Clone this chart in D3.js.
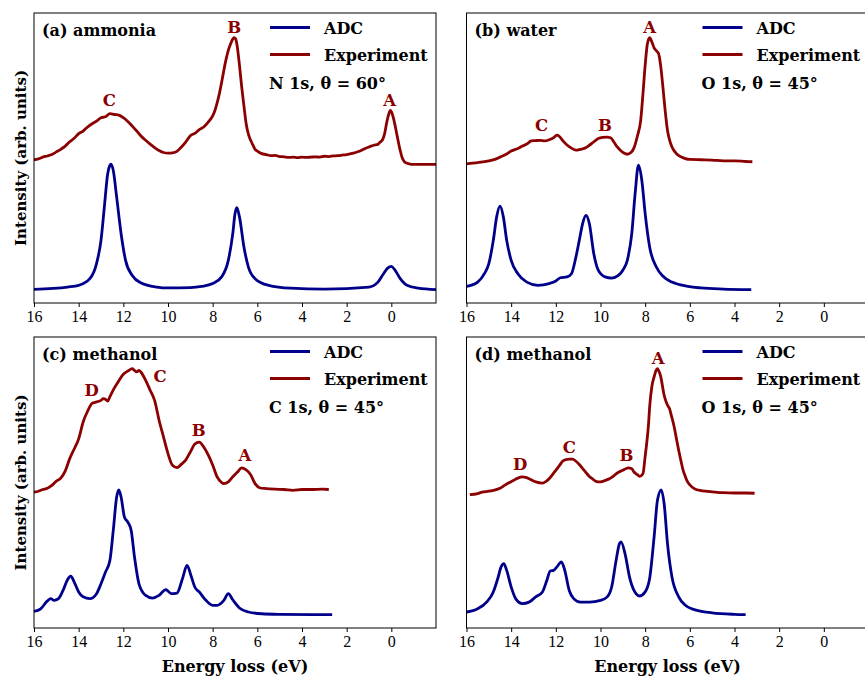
<!DOCTYPE html>
<html><head><meta charset="utf-8">
<script src="https://cdn.jsdelivr.net/npm/d3@7"></script>
<style>body{margin:0;background:#fff}svg{display:block}</style>
</head><body>
<script>
// ---------- DATA ----------
const xTicks = [16, 14, 12, 10, 8, 6, 4, 2, 0];
const xLabel = "Energy loss (eV)";
const yLabel = "Intensity (arb. units)";
const seriesNames = ["ADC", "Experiment"];
const titles = ["(a) ammonia", "(b) water", "(c) methanol", "(d) methanol"];
const conditions = ["N 1s, θ = 60°", "O 1s, θ = 45°", "C 1s, θ = 45°", "O 1s, θ = 45°"];

// (a) ammonia
const adcA_E = [16,14.5,14,13.5,13.2,13.0,12.85,12.7,12.6,12.55,12.45,12.3,12.1,11.9,11.6,11.2,10.5,10,9,8.5,8,7.6,7.3,7.1,7.0,6.92,6.8,6.6,6.4,6.1,5.5,4.5,3,1,0.6,0.35,0.15,0,-0.15,-0.4,-0.7,-1.2,-2];
const adcA_I = [0.047,0.055,0.061,0.084,0.136,0.216,0.331,0.446,0.475,0.479,0.457,0.366,0.239,0.147,0.095,0.069,0.055,0.052,0.053,0.057,0.067,0.090,0.147,0.239,0.308,0.329,0.297,0.193,0.124,0.084,0.061,0.051,0.048,0.055,0.072,0.101,0.121,0.126,0.115,0.084,0.061,0.051,0.046];
const expA_E = [16,15.8,15.6,15.4,15.2,15.0,14.8,14.6,14.4,14.2,14.0,13.8,13.6,13.4,13.2,13.0,12.8,12.6,12.4,12.2,12.0,11.8,11.6,11.4,11.2,11.0,10.8,10.6,10.4,10.2,10.0,9.8,9.6,9.4,9.2,9.0,8.8,8.6,8.4,8.2,8.0,7.9,7.8,7.7,7.6,7.5,7.4,7.3,7.2,7.1,7.05,7.0,6.95,6.9,6.8,6.7,6.6,6.5,6.4,6.3,6.2,6.1,6.0,5.8,5.6,5.4,5.2,5.0,4.8,4.6,4.4,4.2,4.0,3.8,3.6,3.4,3.2,3.0,2.8,2.6,2.4,2.2,2.0,1.8,1.6,1.4,1.2,1.0,0.8,0.6,0.5,0.4,0.3,0.2,0.1,0.05,0.0,-0.1,-0.2,-0.3,-0.4,-0.5,-0.6,-0.8,-1.0,-1.5,-2.0];
const expA_I = [0.494,0.497,0.503,0.507,0.512,0.521,0.530,0.541,0.556,0.568,0.584,0.593,0.607,0.618,0.627,0.639,0.642,0.653,0.650,0.648,0.639,0.626,0.610,0.593,0.575,0.561,0.548,0.536,0.526,0.519,0.517,0.518,0.523,0.538,0.556,0.577,0.585,0.598,0.607,0.624,0.645,0.664,0.690,0.722,0.760,0.802,0.840,0.871,0.893,0.910,0.915,0.913,0.906,0.885,0.820,0.745,0.680,0.618,0.582,0.561,0.545,0.530,0.524,0.515,0.512,0.508,0.509,0.505,0.504,0.502,0.503,0.501,0.503,0.502,0.503,0.504,0.503,0.506,0.505,0.507,0.508,0.510,0.512,0.515,0.519,0.524,0.532,0.538,0.544,0.547,0.555,0.562,0.584,0.625,0.655,0.664,0.660,0.636,0.600,0.561,0.525,0.498,0.486,0.480,0.478,0.478,0.478];
const peaksA = [["C",12.63,0.699],["B",7.04,0.952],["A",0.08,0.699]];

// (b) water
const adcB_E = [16,15.5,15.2,15.0,14.8,14.65,14.5,14.35,14.2,14.0,13.7,13.3,12.8,12.3,12.0,11.8,11.5,11.3,11.1,10.95,10.8,10.65,10.5,10.3,10.1,9.8,9.5,9.2,9.0,8.8,8.6,8.45,8.3,8.15,8.0,7.8,7.5,7.2,6.8,6.2,5.5,4.5,3.25];
const adcB_I = [0.057,0.072,0.101,0.136,0.216,0.297,0.334,0.297,0.216,0.147,0.101,0.072,0.061,0.067,0.076,0.087,0.090,0.101,0.159,0.216,0.274,0.302,0.274,0.170,0.113,0.090,0.086,0.095,0.113,0.147,0.239,0.377,0.475,0.423,0.308,0.193,0.124,0.092,0.072,0.059,0.052,0.048,0.046];
const expB_E = [16,15.5,15,14.7,14.5,14.2,14,13.7,13.5,13.3,13.1,12.9,12.7,12.5,12.3,12.1,11.95,11.85,11.7,11.5,11.3,11.1,10.9,10.7,10.5,10.3,10.1,9.9,9.7,9.55,9.4,9.25,9.1,8.95,8.8,8.65,8.5,8.35,8.2,8.1,8.0,7.9,7.8,7.7,7.6,7.5,7.4,7.3,7.2,7.1,7.0,6.9,6.8,6.6,6.4,6.2,6.0,5.5,5.0,4.5,4.0,3.5,3.2];
const expB_I = [0.480,0.484,0.490,0.496,0.503,0.514,0.524,0.533,0.541,0.548,0.559,0.560,0.561,0.559,0.563,0.570,0.579,0.575,0.561,0.545,0.534,0.527,0.530,0.534,0.544,0.556,0.567,0.571,0.572,0.570,0.555,0.538,0.526,0.517,0.513,0.518,0.535,0.575,0.630,0.720,0.820,0.894,0.915,0.900,0.880,0.870,0.860,0.814,0.740,0.660,0.595,0.560,0.538,0.515,0.504,0.498,0.495,0.494,0.493,0.490,0.490,0.488,0.487];
const peaksB = [["C",12.64,0.613],["B",9.8,0.613],["A",7.8,0.952]];

// (c) methanol C 1s
const adcC_E = [16,15.7,15.4,15.25,15.1,14.9,14.7,14.5,14.35,14.2,14.0,13.8,13.5,13.2,13.0,12.8,12.6,12.45,12.3,12.2,12.1,11.95,11.8,11.65,11.5,11.3,11.0,10.7,10.4,10.1,9.85,9.6,9.35,9.15,8.95,8.8,8.6,8.3,8.0,7.8,7.5,7.3,7.1,6.8,6.4,5.8,5.0,3.5,2.65];
const adcC_I = [0.057,0.066,0.093,0.101,0.095,0.101,0.129,0.166,0.178,0.158,0.124,0.107,0.101,0.118,0.152,0.192,0.233,0.336,0.450,0.475,0.450,0.381,0.364,0.336,0.244,0.152,0.112,0.103,0.112,0.132,0.118,0.120,0.170,0.215,0.175,0.141,0.124,0.095,0.078,0.078,0.095,0.118,0.097,0.069,0.055,0.049,0.047,0.046,0.046];
const expC_E = [16,15.8,15.6,15.4,15.2,15.0,14.8,14.6,14.4,14.2,14.0,13.8,13.6,13.4,13.2,13.0,12.9,12.8,12.7,12.6,12.4,12.2,12.0,11.8,11.6,11.5,11.4,11.3,11.2,11.0,10.8,10.6,10.4,10.2,10.0,9.8,9.6,9.4,9.2,9.0,8.8,8.6,8.4,8.2,8.0,7.8,7.6,7.5,7.3,7.1,6.9,6.7,6.5,6.3,6.1,5.9,5.6,5.2,4.8,4.4,4.0,3.5,3.1,2.8];
const expC_I = [0.467,0.470,0.476,0.480,0.490,0.505,0.515,0.540,0.582,0.615,0.650,0.708,0.745,0.772,0.777,0.782,0.788,0.786,0.780,0.795,0.825,0.850,0.872,0.883,0.891,0.885,0.880,0.885,0.878,0.851,0.817,0.782,0.714,0.656,0.599,0.559,0.551,0.563,0.578,0.605,0.632,0.639,0.622,0.595,0.560,0.519,0.500,0.496,0.502,0.520,0.535,0.550,0.543,0.527,0.496,0.482,0.479,0.477,0.476,0.473,0.476,0.476,0.477,0.476];
const peaksC = [["D",13.42,0.819],["C",10.36,0.866],["B",8.62,0.679],["A",6.56,0.596]];

// (d) methanol O 1s
const adcD_E = [16,15.5,15.1,14.8,14.6,14.45,14.33,14.2,14.0,13.8,13.5,13.2,12.9,12.6,12.4,12.25,12.1,11.95,11.75,11.6,11.4,11.2,10.9,10.5,10.0,9.7,9.5,9.3,9.15,9.08,8.9,8.7,8.5,8.25,8.0,7.8,7.6,7.45,7.28,7.15,7.0,6.8,6.5,6.2,5.8,5.0,4.0,3.5];
const adcD_I = [0.055,0.066,0.089,0.124,0.170,0.210,0.221,0.198,0.141,0.101,0.084,0.089,0.107,0.124,0.164,0.196,0.198,0.210,0.227,0.198,0.129,0.101,0.089,0.089,0.095,0.107,0.141,0.233,0.290,0.296,0.255,0.175,0.129,0.110,0.124,0.170,0.313,0.439,0.475,0.427,0.290,0.175,0.107,0.078,0.063,0.052,0.047,0.046];
const expD_E = [15.85,15.5,15.3,15.0,14.8,14.5,14.3,14.1,13.9,13.7,13.5,13.35,13.2,12.9,12.6,12.45,12.3,12.15,12.0,11.85,11.7,11.55,11.4,11.25,11.1,10.95,10.8,10.65,10.5,10.35,10.2,10.05,9.9,9.75,9.6,9.45,9.3,9.15,9.0,8.85,8.75,8.6,8.5,8.35,8.25,8.1,8.0,7.95,7.85,7.8,7.7,7.6,7.5,7.45,7.4,7.3,7.2,7.15,7.05,7.0,6.9,6.85,6.7,6.6,6.5,6.4,6.3,6.2,6.1,6.0,5.8,5.5,5.3,5.0,4.5,4.0,3.5,3.1];
const expD_I = [0.458,0.462,0.467,0.470,0.473,0.480,0.490,0.499,0.507,0.515,0.519,0.518,0.513,0.502,0.498,0.503,0.513,0.527,0.542,0.557,0.573,0.579,0.580,0.580,0.573,0.562,0.548,0.534,0.521,0.512,0.504,0.502,0.504,0.508,0.513,0.520,0.530,0.537,0.542,0.548,0.550,0.547,0.536,0.527,0.521,0.530,0.590,0.622,0.700,0.759,0.830,0.863,0.887,0.891,0.885,0.863,0.820,0.800,0.775,0.766,0.752,0.737,0.691,0.650,0.611,0.575,0.542,0.520,0.502,0.492,0.479,0.472,0.470,0.468,0.465,0.464,0.464,0.463];
const peaksD = [["D",13.6,0.565],["C",11.4,0.622],["B",8.84,0.593],["A",7.42,0.929]];

// ---------- LAYOUT ----------
const W = 865, H = 677;
const blue = "#00008b", red = "#8b0000";
const boldFont = "'DejaVu Serif', serif";
const tickFont = "'Liberation Serif', 'DejaVu Serif', serif";

const panels = [
  {left:34,   top:13,  h:290, title:titles[0], cond:conditions[0], adc:[adcA_E,adcA_I], exp:[expA_E,expA_I], peaks:peaksA, ylab:true,  xlab:false},
  {left:466.5,top:13,  h:290, title:titles[1], cond:conditions[1], adc:[adcB_E,adcB_I], exp:[expB_E,expB_I], peaks:peaksB, ylab:false, xlab:false},
  {left:34,   top:337, h:291, title:titles[2], cond:conditions[2], adc:[adcC_E,adcC_I], exp:[expC_E,expC_I], peaks:peaksC, ylab:true,  xlab:true},
  {left:466.5,top:337, h:291, title:titles[3], cond:conditions[3], adc:[adcD_E,adcD_I], exp:[expD_E,expD_I], peaks:peaksD, ylab:false, xlab:true}
];
const pw = 402;

const svg = d3.select("body").append("svg").attr("width", W).attr("height", H)
  .style("font-family", boldFont);

panels.forEach(p => {
  const x = d3.scaleLinear().domain([16, -2]).range([p.left, p.left + pw]);
  const y = d3.scaleLinear().domain([0, 1]).range([p.top + p.h, p.top]);
  const g = svg.append("g");

  const line = d3.line().x(d => x(d[0])).y(d => y(d[1])).curve(d3.curveMonotoneX);
  const pts = s => s[0].map((e, i) => [e, s[1][i]]);

  g.append("path").datum(pts(p.exp)).attr("d", line)
    .attr("fill", "none").attr("stroke", red).attr("stroke-width", 2.8).attr("stroke-linejoin", "round");
  g.append("path").datum(pts(p.adc)).attr("d", line)
    .attr("fill", "none").attr("stroke", blue).attr("stroke-width", 2.8).attr("stroke-linejoin", "round");

  // frame
  g.append("rect").attr("x", p.left).attr("y", p.top).attr("width", pw).attr("height", p.h)
    .attr("fill", "none").attr("stroke", "#000").attr("stroke-width", 1);

  // x axis
  const ax = g.append("g").attr("transform", `translate(0,${p.top + p.h})`)
    .call(d3.axisBottom(x).tickValues(xTicks).tickSize(4).tickSizeOuter(0).tickFormat(d3.format("d")));
  ax.select(".domain").remove();
  ax.selectAll("line").attr("stroke", "#000");
  ax.selectAll("text").attr("font-family", tickFont).attr("font-size", 16).attr("fill", "#000").attr("dy", "0.75em");

  // title
  g.append("text").attr("x", p.left + 8).attr("y", p.top + 23)
    .attr("font-size", 16).attr("font-weight", "bold").text(p.title);

  // legend
  const lx = p.left + 236;
  [[blue, seriesNames[0], 14.6], [red, seriesNames[1], 41.6]].forEach(([c, t, dy]) => {
    g.append("line").attr("x1", lx).attr("x2", lx + 40).attr("y1", p.top + dy).attr("y2", p.top + dy)
      .attr("stroke", c).attr("stroke-width", 3);
    g.append("text").attr("x", lx + 54).attr("y", p.top + dy + 6)
      .attr("font-size", 16).attr("font-weight", "bold").text(t);
  });
  g.append("text").attr("x", p.left + 235).attr("y", p.top + 70 + 6)
    .attr("font-size", 16).attr("font-weight", "bold").text(p.cond);

  // peak labels
  p.peaks.forEach(([t, e, v]) => {
    g.append("text").attr("x", x(e)).attr("y", y(v) + 6).attr("text-anchor", "middle")
      .attr("font-size", 16.5).attr("font-weight", "bold").attr("fill", red).text(t);
  });

  if (p.ylab) {
    const cy = p.top + p.h / 2;
    g.append("text").attr("transform", `translate(21,${cy}) rotate(-90)`)
      .attr("text-anchor", "middle").attr("dy", "0.35em")
      .attr("font-size", 15).attr("font-weight", "bold").text(yLabel);
  }
  if (p.xlab) {
    g.append("text").attr("x", p.left + 201).attr("y", 672)
      .attr("text-anchor", "middle").attr("font-size", 16).attr("font-weight", "bold").text(xLabel);
  }
});
</script>
</body></html>
